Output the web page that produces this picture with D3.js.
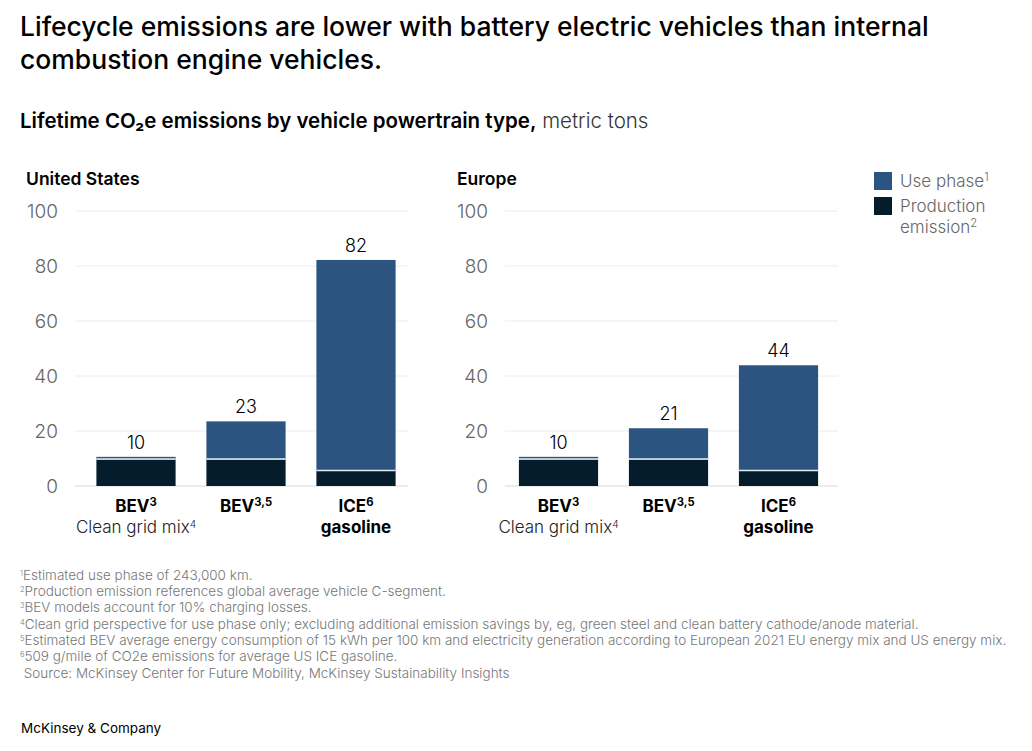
<!DOCTYPE html>
<html>
<head>
<meta charset="utf-8">
<script src="https://cdn.jsdelivr.net/npm/d3@7"></script>
<style>
  html, body { margin: 0; padding: 0; background: #fff; }
  svg { display: block; font-family: Inter, "Liberation Sans", sans-serif; }
</style>
</head>
<body>
<svg id="chart" width="1032" height="751"></svg>
<script>
const titleLines = [
  'Lifecycle emissions are lower with battery electric vehicles than internal',
  'combustion engine vehicles.'
];
const categoryIds = ['clean', 'avg', 'ice'];
const yTicks = [0, 20, 40, 60, 80, 100];

const usProduction = [9.6, 9.6, 5.5];
const usUse = [1, 13.9, 76.7];
const usTotals = [10, 23, 82];

const euProduction = [9.6, 9.6, 5.5];
const euUse = [1, 11.4, 38.4];
const euTotals = [10, 21, 44];

const footnotes = [
  ['1', 'Estimated use phase of 243,000 km.'],
  ['2', 'Production emission references global average vehicle C-segment.'],
  ['3', 'BEV models account for 10% charging losses.'],
  ['4', 'Clean grid perspective for use phase only; excluding additional emission savings by, eg, green steel and clean battery cathode/anode material.'],
  ['5', 'Estimated BEV average energy consumption of 15 kWh per 100 km and electricity generation according to European 2021 EU energy mix and US energy mix.'],
  ['6', '509 g/mile of CO2e emissions for average US ICE gasoline.'],
  ['', ' Source: McKinsey Center for Future Mobility, McKinsey Sustainability Insights']
];

const blue = '#2b5580';
const navy = '#051c2c';

const svg = d3.select('#chart');

const y = d3.scaleLinear().domain([0, 100]).range([486, 211]);

// text with raised footnote marks, parts are [string, isSup]
function rich(g, x, yPos, parts, opts) {
  const t = g.append('text')
    .attr('x', x)
    .attr('y', yPos)
    .attr('font-size', opts.size)
    .attr('font-weight', opts.weight)
    .attr('fill', opts.fill)
    .attr('text-anchor', opts.anchor || 'start')
    .attr('xml:space', 'preserve');
  parts.forEach(([str, sup]) => {
    t.append('tspan')
      .attr('font-size', sup ? opts.size * (opts.supScale || 0.66) : opts.size)
      .attr('baseline-shift', sup ? '55%' : null)
      .text(str);
  });
  return t;
}

svg.selectAll('.title')
  .data(titleLines)
  .join('text')
  .attr('class', 'title')
  .attr('x', 20)
  .attr('y', (d, i) => 36 + i * 33)
  .attr('font-size', 26.5)
  .attr('font-weight', 500)
  .attr('fill', '#000')
  .text(d => d);

const sub = svg.append('text').attr('x', 20).attr('y', 128).attr('font-size', 20.5).attr('fill', '#000');
sub.append('tspan').attr('font-weight', 600).text('Lifetime CO₂e emissions by vehicle powertrain type,');
sub.append('tspan').attr('font-weight', 300).attr('fill', '#333').text(' metric tons');

function drawPanel(name, titleX, axisX, gridRange, bandRange, production, use, totals) {
  const g = svg.append('g');
  const x = d3.scaleBand().domain(categoryIds).range(bandRange).paddingInner(0.28).paddingOuter(0.14);

  g.append('text')
    .attr('x', titleX)
    .attr('y', 184.5)
    .attr('font-size', 17.5)
    .attr('font-weight', 600)
    .attr('fill', '#000')
    .text(name);

  const axis = g.append('g')
    .attr('transform', `translate(${axisX},0.5)`)
    .call(d3.axisLeft(y).tickValues(yTicks).tickSize(0).tickPadding(0))
    .attr('font-family', null);
  axis.select('.domain').remove();
  axis.selectAll('text')
    .attr('font-size', 19)
    .attr('font-weight', 300)
    .attr('fill', '#666');

  g.selectAll('.grid')
    .data(yTicks)
    .join('line')
    .attr('x1', gridRange[0])
    .attr('x2', gridRange[1])
    .attr('y1', d => y(d))
    .attr('y2', d => y(d))
    .attr('stroke', d => d === 0 ? '#d8d8d8' : '#ececec')
    .attr('stroke-width', 1);

  const rows = categoryIds.map((id, i) => ({ id, production: production[i], use: use[i], total: totals[i] }));
  const series = d3.stack().keys(['production', 'use'])(rows);
  const color = d3.scaleOrdinal().domain(['production', 'use']).range([navy, blue]);

  g.selectAll('.layer')
    .data(series)
    .join('g')
    .attr('class', 'layer')
    .attr('fill', d => color(d.key))
    .selectAll('rect')
    .data(d => d)
    .join('rect')
    .attr('x', d => x(d.data.id))
    .attr('width', x.bandwidth())
    .attr('y', d => y(d[1]))
    .attr('height', d => y(d[0]) - y(d[1]));

  // thin light rule between the two segments
  g.selectAll('.sep')
    .data(rows)
    .join('line')
    .attr('x1', d => x(d.id))
    .attr('x2', d => x(d.id) + x.bandwidth())
    .attr('y1', d => y(d.production) - 0.5)
    .attr('y2', d => y(d.production) - 0.5)
    .attr('stroke', '#e4ecf3')
    .attr('stroke-width', 1.5);

  g.selectAll('.total')
    .data(rows)
    .join('text')
    .attr('class', 'total')
    .attr('x', d => x(d.id) + x.bandwidth() / 2)
    .attr('y', d => y(d.production + d.use) - 8)
    .attr('text-anchor', 'middle')
    .attr('font-size', 18)
    .attr('font-weight', 300)
    .attr('fill', '#000')
    .text(d => d.total);

  const mid = id => x(id) + x.bandwidth() / 2;
  const bold = { size: 17, weight: 700, fill: '#000', anchor: 'middle' };
  rich(g, mid('clean'), 512, [['BEV'], ['3', true]], bold);
  rich(g, mid('clean'), 533, [['Clean grid mix'], ['4', true]], { size: 17, weight: 300, fill: '#222', anchor: 'middle', supScale: 0.6 });
  rich(g, mid('avg'), 512, [['BEV'], ['3,5', true]], bold);
  rich(g, mid('ice'), 512, [['ICE'], ['6', true]], bold);
  rich(g, mid('ice'), 533, [['gasoline']], bold);
}

drawPanel('United States', 26, 58, [75, 408], [81, 411], usProduction, usUse, usTotals);
drawPanel('Europe', 457, 488, [505, 838], [503.5, 833.5], euProduction, euUse, euTotals);

// legend
const legend = svg.append('g');
legend.append('rect').attr('x', 874).attr('y', 172).attr('width', 18).attr('height', 18).attr('fill', blue);
legend.append('rect').attr('x', 874).attr('y', 197).attr('width', 18).attr('height', 18).attr('fill', navy);
const legendStyle = { size: 17, weight: 300, fill: '#666' };
rich(legend, 900, 187, [['Use phase'], ['1', true]], legendStyle);
rich(legend, 900, 212, [['Production']], legendStyle);
rich(legend, 900, 233, [['emission'], ['2', true]], legendStyle);

// footnotes
const notes = svg.append('g');
footnotes.forEach(([mark, str], i) => {
  rich(notes, 20, 579.5 + i * 16.35, [[mark, true], [str]], { size: 13.5, weight: 300, fill: '#777', supScale: 0.55 });
});

svg.append('text')
  .attr('x', 21)
  .attr('y', 733)
  .attr('font-size', 13.5)
  .attr('font-weight', 400)
  .attr('fill', '#000')
  .text('McKinsey & Company');
</script>
</body>
</html>
